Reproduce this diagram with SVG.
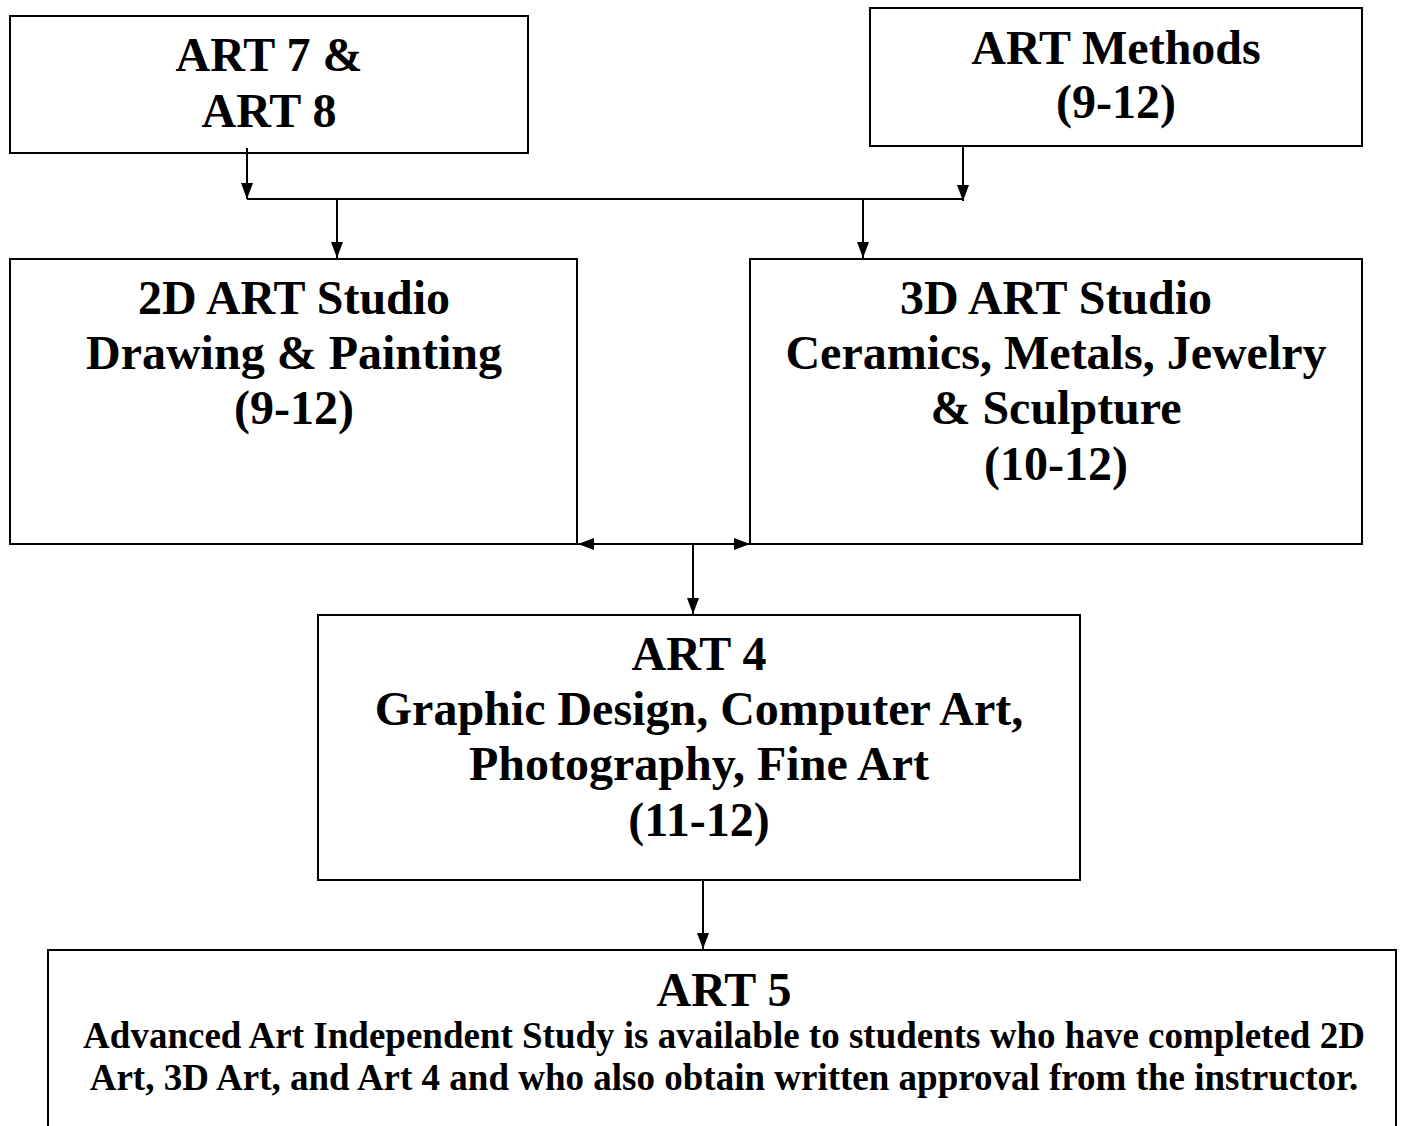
<svg xmlns="http://www.w3.org/2000/svg" width="1401" height="1126" viewBox="0 0 1401 1126">
<style>
.box{fill:#fff;stroke:#000;stroke-width:2}
.t{font-family:"Liberation Serif","Times New Roman",serif;font-weight:bold;font-size:48px;text-anchor:middle;fill:#000}
.s{font-family:"Liberation Serif","Times New Roman",serif;font-weight:bold;font-size:37px;text-anchor:middle;fill:#000}
.c{stroke:#000;stroke-width:2;fill:none}
</style>
<defs>
<marker id="ah" viewBox="0 0 16 12" refX="16" refY="6" markerWidth="16" markerHeight="12" markerUnits="userSpaceOnUse" orient="auto-start-reverse">
<path d="M0,0 L16,6 L0,12 Z" fill="#000"/>
</marker>
</defs>
<rect width="1401" height="1126" fill="#fff"/>
<g id="art78">
<rect class="box" x="10" y="16" width="518" height="137"/>
<text class="t" x="269" y="71">ART 7 &amp;</text>
<text class="t" x="269" y="127">ART 8</text>
</g>
<g id="artmethods">
<rect class="box" x="870" y="8" width="492" height="138"/>
<text class="t" x="1116" y="64">ART Methods</text>
<text class="t" x="1116" y="118">(9-12)</text>
</g>
<g id="studio2d">
<rect class="box" x="10" y="259" width="567" height="285"/>
<text class="t" x="294" y="314">2D ART Studio</text>
<text class="t" x="294" y="369">Drawing &amp; Painting</text>
<text class="t" x="294" y="424">(9-12)</text>
</g>
<g id="studio3d">
<rect class="box" x="750" y="259" width="612" height="285"/>
<text class="t" x="1056" y="314">3D ART Studio</text>
<text class="t" x="1056" y="369">Ceramics, Metals, Jewelry</text>
<text class="t" x="1056" y="424">&amp; Sculpture</text>
<text class="t" x="1056" y="480">(10-12)</text>
</g>
<g id="art4">
<rect class="box" x="318" y="615" width="762" height="265"/>
<text class="t" x="699" y="670">ART 4</text>
<text class="t" x="699" y="725">Graphic Design, Computer Art,</text>
<text class="t" x="699" y="780">Photography, Fine Art</text>
<text class="t" x="699" y="836">(11-12)</text>
</g>
<g id="art5">
<rect class="box" x="48" y="950" width="1348" height="200"/>
<text class="t" x="724" y="1006">ART 5</text>
<text class="s" x="724" y="1048">Advanced Art Independent Study is available to students who have completed 2D</text>
<text class="s" x="724" y="1090">Art, 3D Art, and Art 4 and who also obtain written approval from the instructor.</text>
</g>
<g id="connectors">
<line class="c" x1="247" y1="148" x2="247" y2="199" marker-end="url(#ah)"/>
<line class="c" x1="963" y1="146" x2="963" y2="201" marker-end="url(#ah)"/>
<line class="c" x1="247" y1="199" x2="963" y2="199"/>
<line class="c" x1="337" y1="199" x2="337" y2="258" marker-end="url(#ah)"/>
<line class="c" x1="863" y1="199" x2="863" y2="258" marker-end="url(#ah)"/>
<line class="c" x1="578" y1="544" x2="750" y2="544" marker-start="url(#ah)" marker-end="url(#ah)"/>
<line class="c" x1="693" y1="544" x2="693" y2="614" marker-end="url(#ah)"/>
<line class="c" x1="703" y1="880" x2="703" y2="949" marker-end="url(#ah)"/>
</g>
</svg>
